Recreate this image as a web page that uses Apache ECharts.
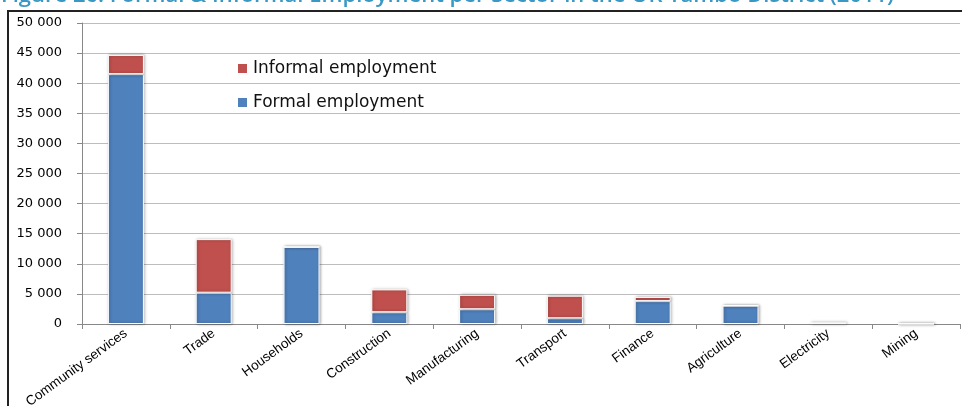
<!DOCTYPE html>
<html lang="en">
<head>
    <meta charset="UTF-8">
    <title>Formal & Informal Employment per Sector</title>
    <script src="https://cdn.jsdelivr.net/npm/echarts@6/dist/echarts.min.js"></script>
    <style>
        html, body { margin: 0; padding: 0; background: #fff; }
    </style>
</head>
<body>
<div id="main" style="width: 962px;height:406px;"></div>
<script type="text/javascript">
    // sectors and employment numbers
    var sectors = ['Community services', 'Trade', 'Households', 'Construction', 'Manufacturing',
        'Transport', 'Finance', 'Agriculture', 'Electricity', 'Mining'];
    var formal = [41500, 5200, 12800, 1950, 2450, 950, 3800, 3050, 150, 30];
    var informal = [3200, 8900, 0, 3800, 2400, 3750, 700, 0, 0, 0];
    var yTicks = [0, 5000, 10000, 15000, 20000, 25000, 30000, 35000, 40000, 45000, 50000];

    var chartDom = document.getElementById('main');
    var myChart = echarts.init(chartDom);

    var barStyle = function (color) {
        return {
            color: color,
            borderColor: '#ffffff',
            borderWidth: 1,
            shadowBlur: 3,
            shadowColor: 'rgba(0,0,0,0.35)',
            shadowOffsetX: 1,
            shadowOffsetY: 0
        };
    };

    var option = {
        animation: false,
        title: {
            text: 'Figure 26: Formal & Informal Employment per Sector in the OR Tambo District (2011)',
            left: -4,
            top: -20,
            textStyle: {
                color: '#3a98c4',
                fontFamily: 'Open Sans',
                fontSize: 22,
                fontWeight: 600
            }
        },
        graphic: [{
            type: 'rect',
            shape: {x: 8, y: 11, width: 1000, height: 500},
            style: {fill: 'none', stroke: '#222', lineWidth: 2},
            z: 100
        }],
        legend: {
            orient: 'vertical',
            left: 231,
            top: 55,
            itemGap: 17,
            itemWidth: 11,
            itemHeight: 11,
            icon: 'rect',
            data: ['Informal employment', 'Formal employment'],
            textStyle: {color: '#111', fontFamily: 'DejaVu Sans', fontSize: 17}
        },
        grid: {left: 82, right: 2, top: 23, bottom: 82, outerBoundsMode: 'none', containLabel: false},
        xAxis: {
            type: 'category',
            data: sectors,
            axisLine: {lineStyle: {color: '#888'}},
            axisTick: {show: true, length: 5, lineStyle: {color: '#888'}},
            axisLabel: {
                interval: 0,
                rotate: 36,
                margin: 8,
                color: '#000',
                fontFamily: 'Liberation Sans',
                fontSize: 13.5
            }
        },
        yAxis: {
            type: 'value',
            min: yTicks[0],
            max: yTicks[yTicks.length - 1],
            interval: 5000,
            axisLine: {show: true, lineStyle: {color: '#888'}},
            axisTick: {show: true, length: 5, lineStyle: {color: '#888'}},
            splitLine: {lineStyle: {color: '#bdbdbd', width: 1}},
            axisLabel: {
                margin: 20,
                color: '#000',
                fontFamily: 'DejaVu Sans',
                fontSize: 13,
                formatter: function (v) {
                    return String(v).replace(/\B(?=(\d{3})+(?!\d))/g, ' ');
                }
            }
        },
        series: [
            {
                name: 'Formal employment',
                type: 'bar',
                stack: 'emp',
                barWidth: 36,
                data: formal,
                itemStyle: barStyle('#4f81bd')
            },
            {
                name: 'Informal employment',
                type: 'bar',
                stack: 'emp',
                barWidth: 36,
                data: informal,
                itemStyle: barStyle('#c0504d')
            }
        ]
    };

    option && myChart.setOption(option);
</script>
</body>
</html>
